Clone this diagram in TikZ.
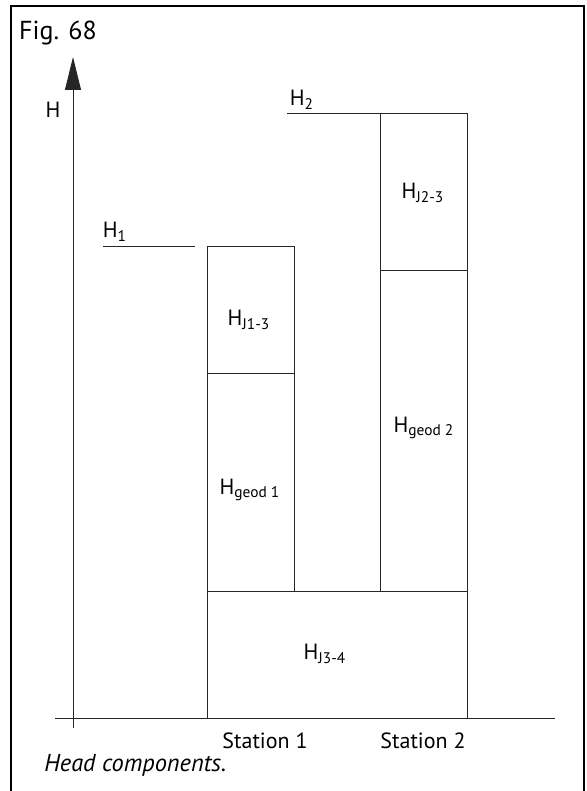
\documentclass[tikz,border=0pt]{standalone}
\usepackage{fontspec}
\setmainfont{PT Sans}
\usetikzlibrary{arrows.meta}

\begin{document}
\begin{tikzpicture}[x=0.5pt, y=-0.5pt, every node/.style={font=\fontsize{11}{13}\selectfont, inner sep=0pt},
	>={Triangle[length=16.5pt, width=8pt]}, bar/.style={draw=black!85, line width=0.5pt}]
	\useasboundingbox (0,0) rectangle (586,791);
	\draw[line width=0.8pt] (11,791) -- (11,6) -- (584,6) -- (584,791);
	\node[font=\fontsize{13}{15}\selectfont] (fig) at (58,33) {Fig. 68};
	% axes
	\coordinate (org) at (73,718);
	\draw[bar, ->] (73,728) -- (73,57);
	\draw[bar] (55,718) -- (555,718);
	\node (h) at (53,110) {H};
	% heads at the two stations
	\draw[bar] (103,246) -- (195,246);
	\node (h1) at (115,232) {H\textsubscript{1}};
	\draw[bar] (287,114) -- (380,114);
	\node (h2) at (302,100) {H\textsubscript{2}};
	\begin{scope}
		\draw[bar] (207,591) rectangle (294,246);
		\draw[bar] (207,373) -- (294,373);
		\node (j13) at (249,320) {H\textsubscript{J1-3}};
		\node (geod1) at (250,490) {H\textsubscript{geod 1}};
	\end{scope}
	\begin{scope}
		\draw[bar] (380,591) rectangle (467,114);
		\draw[bar] (380,270) -- (467,270);
		\node (j23) at (423,193) {H\textsubscript{J2-3}};
		\node (geod2) at (424,428) {H\textsubscript{geod 2}};
	\end{scope}
	\draw[bar] (207,718) rectangle (467,591);
	\node (j34) at (325,654) {H\textsubscript{J3-4}};
	% station names and caption
	\node (st1) at (265,741) {Station 1};
	\node (st2) at (423,741) {Station 2};
	\node[anchor=west, font=\fontsize{12.2}{14}\selectfont\itshape] (cap) at (44,765) {Head components.};
\end{tikzpicture}
\end{document}
